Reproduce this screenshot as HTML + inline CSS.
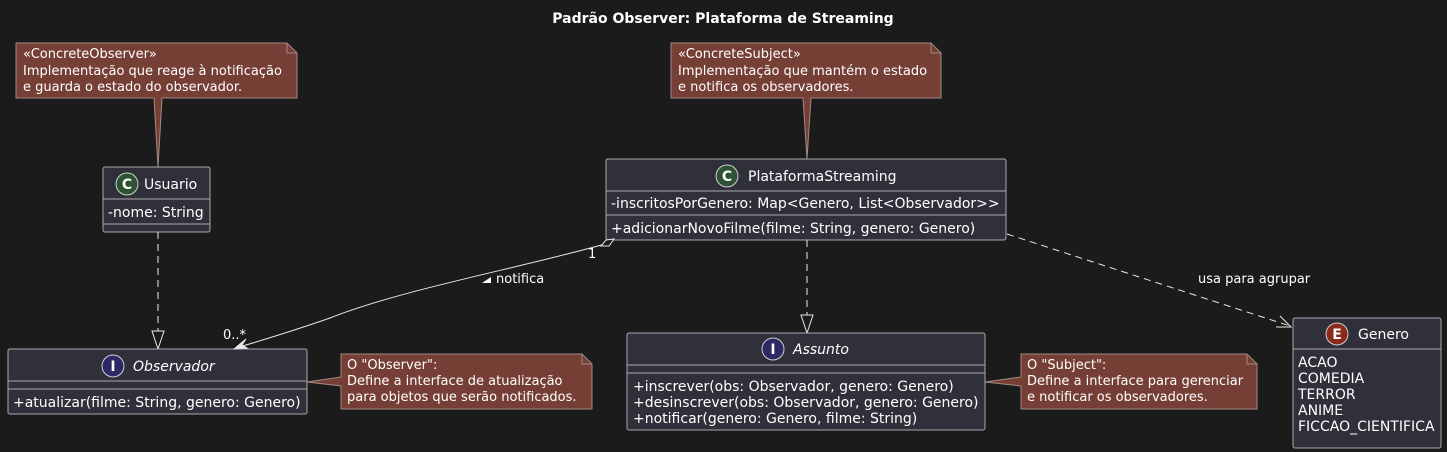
<!DOCTYPE html>
<html><head><meta charset="utf-8"><style>
html,body{margin:0;padding:0;background:#1b1b1b;}
svg{display:block;}
text{font-family:"DejaVu Sans","Liberation Sans",sans-serif;font-size:14px;fill:#ffffff;}
.nt{font-size:13px;}
.box{fill:#2f3039;stroke:#a8a8b0;stroke-width:1;}
.div{stroke:#a8a8b0;stroke-width:1;}
.note{fill:#763f35;stroke:#a08a84;stroke-width:1;}
.ln{stroke:#e8e8e8;stroke-width:1;fill:none;}
</style></head><body>
<svg width="1447" height="452" viewBox="0 0 1447 452" xmlns="http://www.w3.org/2000/svg">
<rect width="1447" height="452" fill="#1b1b1b"/>
<text x="723" y="23" text-anchor="middle" style="font-weight:bold;font-size:14px">Padrão Observer: Plataforma de Streaming</text>

<path class="note" d="M16,43 H287 L297,53 V98 H162 L158,167 L154,98 H16 Z"/>
<path d="M287,43 V53 H297" fill="none" stroke="#a08a84"/>
<text class="nt" x="23" y="58">«ConcreteObserver»</text>
<text class="nt" x="23" y="75">Implementação que reage à notificação</text>
<text class="nt" x="23" y="91">e guarda o estado do observador.</text>

<rect class="box" x="103" y="167" width="107" height="65" rx="2"/>
<line class="div" x1="103" y1="199" x2="210" y2="199"/>
<line class="div" x1="103" y1="224" x2="210" y2="224"/>
<circle cx="127" cy="184" r="11" fill="#2c5433" stroke="#cfcfcf"/>
<text x="127" y="189" text-anchor="middle" style="font-weight:bold;font-size:14px">C</text>
<text x="144" y="189">Usuario</text>
<text x="108" y="217">-nome: String</text>

<line class="ln" x1="158" y1="232" x2="158" y2="331" stroke-dasharray="7,5"/>
<polygon points="152,331 164,331 158,349" fill="#1b1b1b" stroke="#e8e8e8"/>

<rect class="box" x="8" y="349" width="299" height="65" rx="2"/>
<line class="div" x1="8" y1="381" x2="307" y2="381"/>
<line class="div" x1="8" y1="389" x2="307" y2="389"/>
<circle cx="113" cy="366" r="11" fill="#2e2864" stroke="#cfcfcf"/>
<text x="113" y="371" text-anchor="middle" style="font-weight:bold;font-size:14px">I</text>
<text x="133" y="371" style="font-style:italic">Observador</text>
<text x="13" y="407">+atualizar(filme: String, genero: Genero)</text>

<path class="note" d="M341,354 H582 L592,364 V409 H341 V386 L307,382 L341,377 Z"/>
<path d="M582,354 V364 H592" fill="none" stroke="#a08a84"/>
<text class="nt" x="347" y="369">O "Observer":</text>
<text class="nt" x="347" y="385">Define a interface de atualização</text>
<text class="nt" x="347" y="401">para objetos que serão notificados.</text>

<path class="note" d="M671,43 H931 L941,53 V98 H811 L807,159 L803,98 H671 Z"/>
<path d="M931,43 V53 H941" fill="none" stroke="#a08a84"/>
<text class="nt" x="678" y="58">«ConcreteSubject»</text>
<text class="nt" x="678" y="75">Implementação que mantém o estado</text>
<text class="nt" x="678" y="91">e notifica os observadores.</text>

<rect class="box" x="606" y="159" width="400" height="81" rx="2"/>
<line class="div" x1="606" y1="191" x2="1006" y2="191"/>
<line class="div" x1="606" y1="215" x2="1006" y2="215"/>
<circle cx="727" cy="176" r="11" fill="#2c5433" stroke="#cfcfcf"/>
<text x="727" y="181" text-anchor="middle" style="font-weight:bold;font-size:14px">C</text>
<text x="748" y="181">PlataformaStreaming</text>
<text x="611" y="208">-inscritosPorGenero: Map&lt;Genero, List&lt;Observador&gt;&gt;</text>
<text x="611" y="233">+adicionarNovoFilme(filme: String, genero: Genero)</text>

<path class="ln" d="M605,244 C520,268 400,290 330,318 Q290,332 236,348"/>
<polygon points="614,239 609,246 601,246 606,240" fill="#1b1b1b" stroke="#e8e8e8"/>
<polygon points="234,349 246,339 242,345 247,348" fill="#e8e8e8" stroke="#e8e8e8"/>
<text class="nt" x="588" y="258">1</text>
<text class="nt" x="223" y="339">0..*</text>
<polygon points="482,283 491,277 491,283" fill="#ffffff"/>
<text class="nt" x="496" y="283">notifica</text>

<line class="ln" x1="807" y1="240" x2="807" y2="315" stroke-dasharray="7,5"/>
<polygon points="801,315 813,315 807,333" fill="#1b1b1b" stroke="#e8e8e8"/>

<rect class="box" x="627" y="333" width="358" height="97" rx="2"/>
<line class="div" x1="627" y1="365" x2="985" y2="365"/>
<line class="div" x1="627" y1="373" x2="985" y2="373"/>
<circle cx="773" cy="349" r="11" fill="#2e2864" stroke="#cfcfcf"/>
<text x="773" y="354" text-anchor="middle" style="font-weight:bold;font-size:14px">I</text>
<text x="793" y="354" style="font-style:italic">Assunto</text>
<text x="633" y="391">+inscrever(obs: Observador, genero: Genero)</text>
<text x="633" y="407">+desinscrever(obs: Observador, genero: Genero)</text>
<text x="633" y="423">+notificar(genero: Genero, filme: String)</text>

<path class="note" d="M1021,354 H1247 L1257,364 V409 H1021 V386 L985,382 L1021,377 Z"/>
<path d="M1247,354 V364 H1257" fill="none" stroke="#a08a84"/>
<text class="nt" x="1027" y="369">O "Subject":</text>
<text class="nt" x="1027" y="385">Define a interface para gerenciar</text>
<text class="nt" x="1027" y="401">e notificar os observadores.</text>

<line class="ln" x1="1007" y1="234" x2="1290" y2="326" stroke-dasharray="7,5"/>
<path class="ln" d="M1280,316 L1291,327 L1276,327"/>
<text class="nt" x="1198" y="283">usa para agrupar</text>

<rect class="box" x="1293" y="318" width="148" height="130" rx="2"/>
<line class="div" x1="1293" y1="349" x2="1441" y2="349"/>
<circle cx="1337" cy="334" r="11" fill="#8a2a1a" stroke="#cfcfcf"/>
<text x="1337" y="339" text-anchor="middle" style="font-weight:bold;font-size:14px">E</text>
<text x="1358" y="339">Genero</text>
<text x="1298" y="367">ACAO</text>
<text x="1298" y="383">COMEDIA</text>
<text x="1298" y="399">TERROR</text>
<text x="1298" y="415">ANIME</text>
<text x="1298" y="431">FICCAO_CIENTIFICA</text>
</svg>
</body></html>
